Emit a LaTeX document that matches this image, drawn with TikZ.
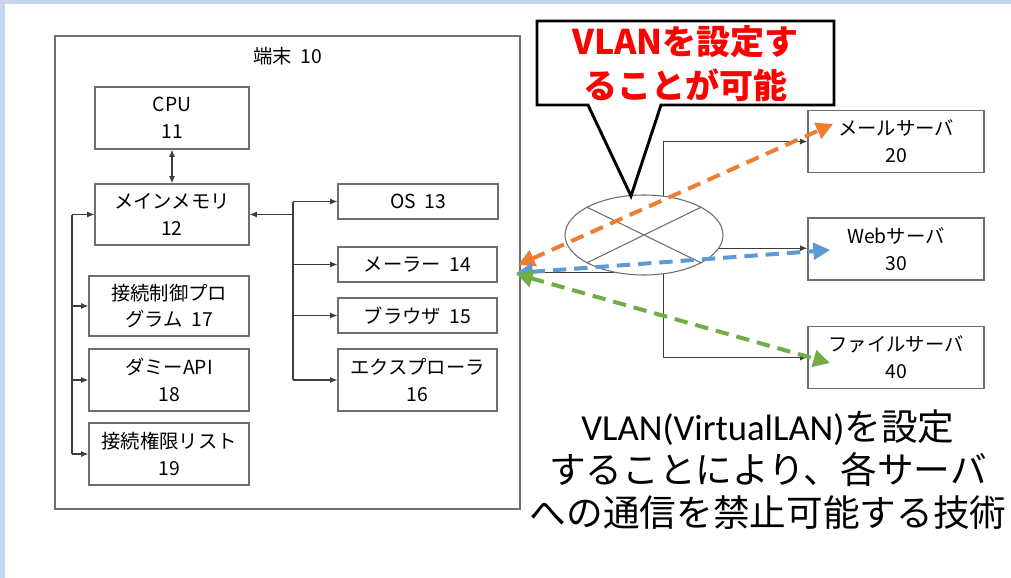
\documentclass[tikz,border=0pt]{standalone}
\usepackage{fontspec}
\setmainfont{Noto Sans CJK JP}
\newfontfamily\carlito{Carlito}
\usetikzlibrary{arrows.meta,shapes.geometric,calc}
\definecolor{band}{HTML}{C7D6F0}
\definecolor{boxgray}{HTML}{6E6E6E}
\definecolor{linegray}{HTML}{3C3C3C}
\definecolor{vorange}{HTML}{ED7D31}
\definecolor{vblue}{HTML}{5B9BD5}
\definecolor{vgreen}{HTML}{70AD47}
\definecolor{vred}{HTML}{FF0000}
\tikzset{
  box/.style={draw=boxgray, line width=0.9pt, fill=white, inner sep=0pt, align=center,
    font=\fontsize{14.5}{20}\selectfont},
  arr/.style={draw=linegray, line width=0.85pt, -{Latex[length=5.5pt,width=4.5pt]}},
  darr/.style={draw=linegray, line width=0.85pt, {Latex[length=5.5pt,width=4.5pt]}-{Latex[length=5.5pt,width=4.5pt]}},
  plain/.style={draw=linegray, line width=0.85pt},
  vlan/.style={line width=3pt, dash pattern=on 10pt off 6pt,
    {Triangle[length=12.5pt,width=12.5pt]}-{Triangle[length=12.5pt,width=12.5pt]}}
}
\begin{document}
\begin{tikzpicture}[x=0.75pt,y=-0.75pt]
\useasboundingbox (0,0) rectangle (1011,578);
\fill[band] (0,0) rectangle (1011,578);
\fill[white] (5,4) rectangle (1011,578);

% terminal
\node[box, minimum width=348.75pt, minimum height=354.75pt] (term) at (287.5,272.5) {};
\node[font=\fontsize{14.5}{20}\selectfont, inner sep=0pt] (termlabel) at (288,56) {端末\ \ 10};

\node[box, minimum width=115.5pt, minimum height=46.5pt] (cpu) at (172,118) {CPU\\11};
\node[box, minimum width=115.5pt, minimum height=45.75pt] (mem) at (172,214.5) {メインメモリ\\12};
\node[box, minimum width=120pt, minimum height=26.25pt] (os) at (418,201.5) {OS\ \ 13};
\node[box, minimum width=119.25pt, minimum height=26.25pt] (mailer) at (417.5,264.5) {メーラー\ \ 14};
\node[box, minimum width=119.25pt, minimum height=26.25pt] (browser) at (417.5,315.5) {ブラウザ\ \ 15};
\node[box, minimum width=119.25pt, minimum height=46.5pt] (explorer) at (417.5,380) {エクスプローラ\\16};
\node[box, minimum width=120pt, minimum height=45pt] (ctrl) at (169,306) {接続制御プロ\\グラム\ \ 17};
\node[box, minimum width=120pt, minimum height=46.5pt] (dummy) at (169,380) {ダミーAPI\\18};
\node[box, minimum width=120pt, minimum height=46.5pt] (acl) at (169,454) {接続権限リスト\\19};

% internal connectors
\draw[darr] (cpu.south) -- (mem.north);
\coordinate (rbus) at (293,214.5);
\coordinate (lbus) at (72,214.5);
\draw[arr] (rbus) -- (mem.east);
\draw[plain] (rbus |- os.west) -- (rbus |- explorer.west);
\draw[arr] (rbus |- os.west) -- (os.west);
\draw[arr] (rbus |- mailer.west) -- (mailer.west);
\draw[arr] (rbus |- browser.west) -- (browser.west);
\draw[arr] (rbus |- explorer.west) -- (explorer.west);
\draw[plain] (lbus) -- (lbus |- acl.west);
\draw[arr] (lbus) -- (mem.west);
\draw[arr] (lbus |- ctrl.west) -- (ctrl.west);
\draw[arr] (lbus |- dummy.west) -- (dummy.west);
\draw[arr] (lbus |- acl.west) -- (acl.west);

% servers
\node[box, minimum width=132pt, minimum height=46pt] (mail) at (896,141.5) {メールサーバ\\20};
\node[box, minimum width=132pt, minimum height=46.5pt] (web) at (896,249) {Webサーバ\\30};
\node[box, minimum width=132pt, minimum height=46pt] (file) at (896,357.5) {ファイルサーバ\\40};

% router
\node[ellipse, draw=boxgray, line width=0.8pt, fill=white, inner sep=0pt,
  minimum width=118.5pt, minimum height=60pt] (router) at (644,235) {};
\draw[draw=boxgray, line width=0.8pt] (router.154) -- (router.-26);
\draw[draw=boxgray, line width=0.8pt] (router.26) -- (router.206);
\draw[arr] (router.64) |- (mail.west);
\draw[arr] (router.-64) |- (file.west);
\draw[arr] (router.-10) -- (router.-10 -| web.west);
\draw[plain] (router.231) -- (router.231 -| term.east);

% callout
\coordinate (cotip) at (631,196);
\draw[line width=2.2pt, fill=white, line join=miter]
  (537,21) -- (834,21) -- (834,105) -- (661,105) -- (cotip) -- (588,105) -- (537,105) -- cycle;
\node[inner sep=0pt, align=center, text=vred, font=\fontsize{25.5}{33}\selectfont\bfseries]
  (callout) at (685.5,64) {VLANを設定す\\ることが可能};

% VLAN arrows
\coordinate (oL) at (518,265);
\coordinate (oR) at (833,124);
\coordinate (bL) at (516,273);
\coordinate (bR) at (830,250);
\coordinate (gL) at (516,274);
\coordinate (gR) at (830,363);
\draw[vlan, vorange] (oL) -- (oR);
\draw[vlan, vblue] (bL) -- (bR);
\draw[vlan, vgreen] (gL) -- (gR);

% caption
\node[inner sep=0pt, align=center, font=\fontsize{27.5}{32.25}\selectfont] (caption) at (768,470)
  {{\carlito VLAN(VirtualLAN)}を設定\\することにより、各サーバ\\への通信を禁止可能する技術};
\end{tikzpicture}
\end{document}
